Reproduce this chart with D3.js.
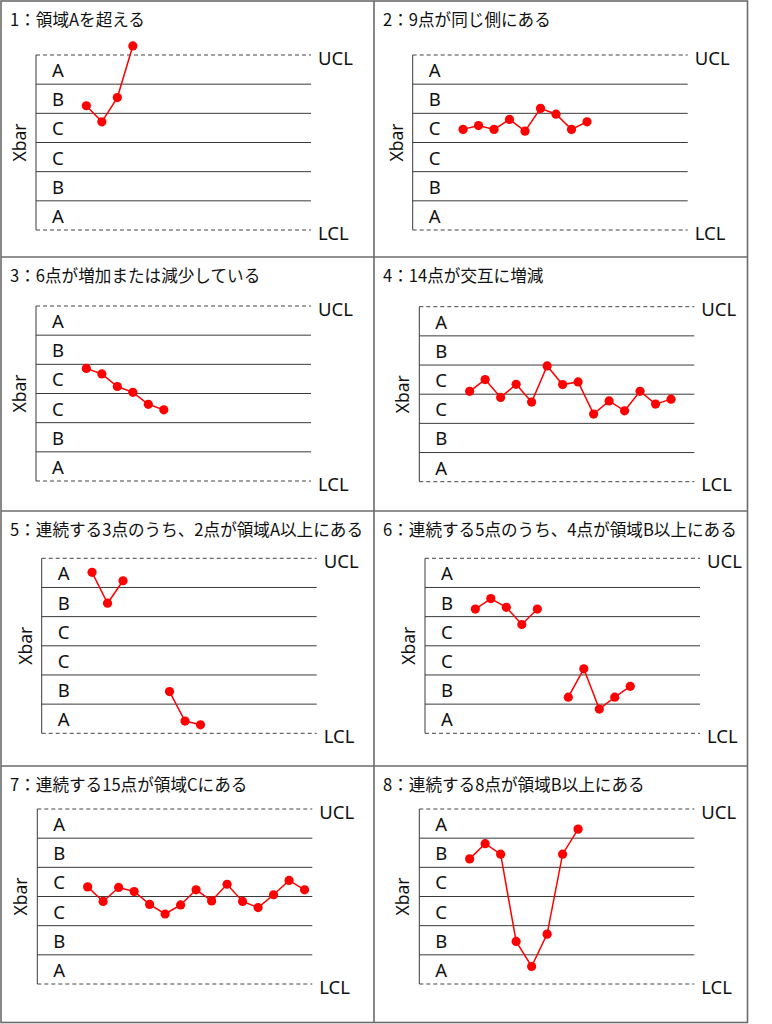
<!DOCTYPE html>
<html>
<head>
<meta charset="utf-8">
<script src="https://cdn.jsdelivr.net/npm/d3@7"></script>
<style>
  body { margin: 0; background: #fff; }
  text { font-family: "Noto Sans CJK JP", "Noto Sans", sans-serif; fill: #111; }
  text.latin { font-family: "Noto Sans", "Open Sans", sans-serif; }
</style>
</head>
<body>
<div id="chart"></div>
<script>
// rule titles, one per panel
const titles = [
  "1：領域Aを超える",
  "2：9点が同じ側にある",
  "3：6点が増加または減少している",
  "4：14点が交互に増減",
  "5：連続する3点のうち、2点が領域A以上にある",
  "6：連続する5点のうち、4点が領域B以上にある",
  "7：連続する15点が領域Cにある",
  "8：連続する8点が領域B以上にある"
];

// zone labels from top to bottom
const zoneLabels = ["A", "B", "C", "C", "B", "A"];
const limitLabels = ["UCL", "LCL"];
const yLabel = "Xbar";

// values in sigma units (UCL = +3, LCL = -3); null = gap
const series1 = [1.26, 0.71, 1.54, 3.31];
const series2 = [0.45, 0.58, 0.45, 0.79, 0.39, 1.17, 0.97, 0.45, 0.71];
const series3 = [0.86, 0.67, 0.24, 0.04, -0.37, -0.56];
const series4 = [0.10, 0.50, -0.11, 0.34, -0.27, 0.97, 0.33, 0.42, -0.68, -0.23, -0.57, 0.10, -0.34, -0.17];
const series5 = [2.52, 1.46, 2.23, null, null, -1.57, -2.58, -2.71];
const series6 = [1.26, 1.62, 1.32, 0.73, 1.26, null, -1.76, -0.79, -2.17, -1.76, -1.39];
const series7 = [0.33, -0.17, 0.31, 0.17, -0.27, -0.60, -0.29, 0.23, -0.15, 0.42, -0.17, -0.38, 0.06, 0.55, 0.23];
const series8 = [1.29, 1.81, 1.45, -1.54, -2.40, -1.29, 1.45, 2.31];
const allSeries = [series1, series2, series3, series4, series5, series6, series7, series8];

const width = 772, height = 1024;
const frameL = 1, frameT = 1, frameR = 747.5, frameB = 1022.5;
const colX = [frameL, 374, frameR];
const rowY = [frameT, 257, 511, 766, frameB];

// axis x offset and UCL y offset inside each cell
const axisOffset = [35, 38.7, 35, 45.3, 40.7, 51, 36.3, 45.3];
const uclOffset = [54, 54, 49, 49.7, 47.3, 47.3, 43, 43];
const plotW = 275, plotH = 175;

const svg = d3.select("#chart").append("svg")
  .attr("width", width)
  .attr("height", height);

// grid of panels
const frame = svg.append("g").attr("fill", "none").attr("stroke", "#6b6b6b").attr("stroke-width", 1.6);
frame.append("rect").attr("x", frameL).attr("y", frameT).attr("width", frameR - frameL).attr("height", frameB - frameT);
frame.append("line").attr("x1", colX[1]).attr("x2", colX[1]).attr("y1", frameT).attr("y2", frameB);
rowY.slice(1, 4).forEach(y => {
  frame.append("line").attr("x1", frameL).attr("x2", frameR).attr("y1", y).attr("y2", y);
});

allSeries.forEach((values, i) => {
  const col = i % 2, row = Math.floor(i / 2);
  const cx = colX[col], cy = rowY[row];
  const g = svg.append("g").attr("transform", `translate(${cx},${cy})`);

  g.append("text")
    .attr("x", 9)
    .attr("y", 17.5)
    .attr("dominant-baseline", "central")
    .attr("font-size", 16.6)
    .text(titles[i]);

  const x0 = axisOffset[i], y0 = uclOffset[i];
  const x = d3.scaleLinear().domain([-3.25, 14.5]).range([x0, x0 + plotW]);
  const y = d3.scaleLinear().domain([-3, 3]).range([y0 + plotH, y0]);

  // zone boundaries
  const inner = d3.range(-2, 3);
  g.append("g").selectAll("line").data(inner).join("line")
    .attr("x1", x0).attr("x2", x0 + plotW)
    .attr("y1", d => y(d)).attr("y2", d => y(d))
    .attr("stroke", "#3a3a3a").attr("stroke-width", 1);

  g.append("g").selectAll("line").data([3, -3]).join("line")
    .attr("x1", x0).attr("x2", x0 + plotW)
    .attr("y1", d => y(d)).attr("y2", d => y(d))
    .attr("stroke", "#444").attr("stroke-width", 1)
    .attr("stroke-dasharray", "4,3");

  g.append("line")
    .attr("x1", x0).attr("x2", x0)
    .attr("y1", y(3)).attr("y2", y(-3))
    .attr("stroke", "#3a3a3a").attr("stroke-width", 1);

  g.append("g").selectAll("text").data(zoneLabels).join("text")
    .attr("class", "latin")
    .attr("x", x0 + 16)
    .attr("y", (d, k) => y(2.5 - k))
    .attr("dominant-baseline", "central")
    .attr("font-size", 18.5)
    .text(d => d);

  g.append("g").selectAll("text").data(limitLabels).join("text")
    .attr("class", "latin")
    .attr("x", x0 + plotW + 7)
    .attr("y", (d, k) => y(k === 0 ? 3 : -3) + 2)
    .attr("dominant-baseline", "central")
    .attr("font-size", 18.5)
    .text(d => d);

  g.append("text")
    .attr("class", "latin")
    .attr("transform", `translate(${x0 - 17},${y(0)}) rotate(-90)`)
    .attr("text-anchor", "middle")
    .attr("dominant-baseline", "central")
    .attr("font-size", 17.5)
    .text(yLabel);

  const line = d3.line()
    .defined(d => d !== null)
    .x((d, k) => x(k))
    .y(d => y(d));

  g.append("path")
    .datum(values)
    .attr("fill", "none")
    .attr("stroke", "#ff0000")
    .attr("stroke-width", 1.5)
    .attr("d", line);

  g.append("g").selectAll("circle")
    .data(values.map((v, k) => ({ v, k })).filter(d => d.v !== null))
    .join("circle")
    .attr("cx", d => x(d.k))
    .attr("cy", d => y(d.v))
    .attr("r", 4.6)
    .attr("fill", "#ff0000");
});
</script>
</body>
</html>
